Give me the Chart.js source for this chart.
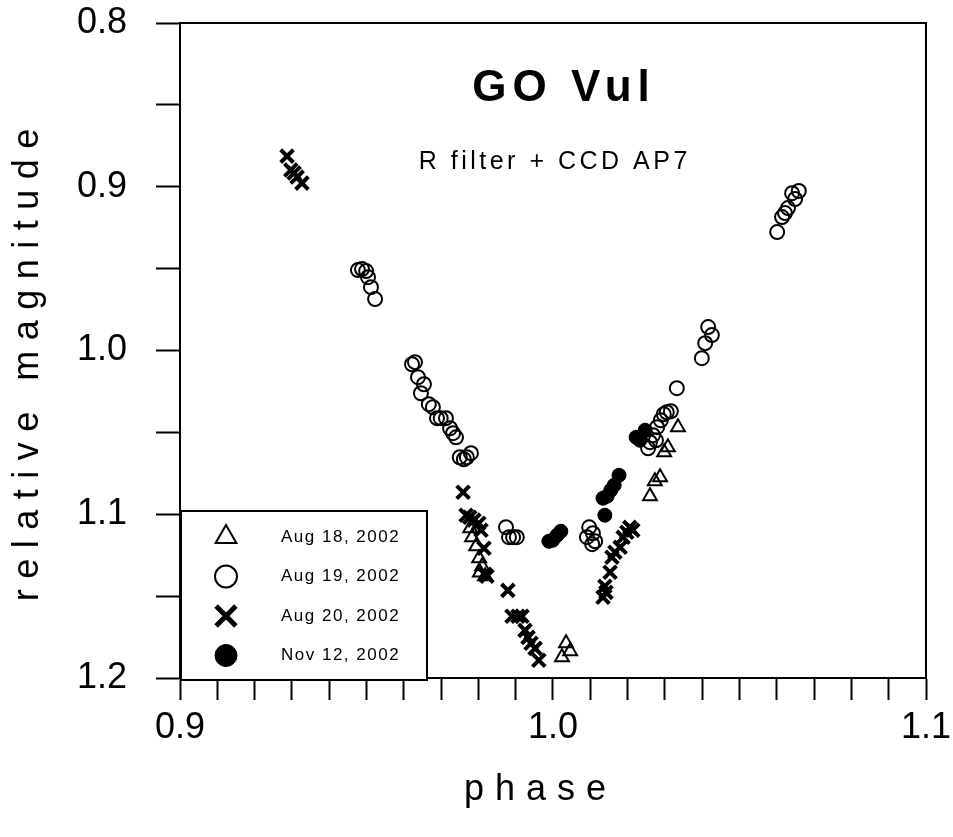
<!DOCTYPE html>
<html>
<head>
<meta charset="utf-8">
<script src="https://cdn.jsdelivr.net/npm/chart.js@4/dist/chart.umd.min.js"></script>
<style>
  html, body { margin: 0; padding: 0; background: #fff; }
</style>
</head>
<body>
<canvas id="myChart" width="953" height="837"></canvas>
<script>
// phase / relative magnitude
const phase18 = [0.9778, 0.9783, 0.9794, 0.9802, 0.9810, 0.9804, 0.9818, 1.0024, 1.0035, 1.0046,
  1.0260, 1.0273, 1.0287, 1.0298, 1.0308, 1.0335];
const mag18 = [1.1086, 1.1141, 1.1196, 1.1269, 1.1318, 1.1355, 1.1379, 1.1874, 1.1788, 1.1837,
  1.0890, 1.0798, 1.0774, 1.0621, 1.0591, 1.0468];

const phase19 = [0.9477, 0.9488, 0.9499, 0.9504, 0.9512, 0.9523,
  0.9622, 0.9630, 0.9638, 0.9654, 0.9646, 0.9667, 0.9678, 0.9689, 0.9699, 0.9713, 0.9724, 0.9732,
  0.9740, 0.9750, 0.9761, 0.9769, 0.9780,
  0.9874, 0.9882, 0.9893, 0.9903,
  1.0091, 1.0097, 1.0105, 1.0107, 1.0113,
  1.0255, 1.0260, 1.0268, 1.0276, 1.0279, 1.0289, 1.0297, 1.0305, 1.0316, 1.0332,
  1.0399, 1.0408, 1.0416, 1.0426,
  1.0601, 1.0614, 1.0622, 1.0630, 1.0641, 1.0649, 1.0659];
const mag19 = [0.9509, 0.9503, 0.9515, 0.9552, 0.9613, 0.9686,
  1.0084, 1.0071, 1.0163, 1.0206, 1.0261, 1.0328, 1.0346, 1.0413, 1.0413, 1.0413, 1.0475, 1.0505,
  1.0530, 1.0652, 1.0664, 1.0652, 1.0627,
  1.1079, 1.1140, 1.1140, 1.1140,
  1.1140, 1.1080, 1.1183, 1.1116, 1.1165,
  1.0597, 1.0560, 1.0517, 1.0548, 1.0468, 1.0426, 1.0389, 1.0377, 1.0371, 1.0230,
  1.0047, 0.9955, 0.9857, 0.9906,
  0.9277, 0.9185, 0.9161, 0.9130, 0.9039, 0.9075, 0.9026];

const phase20 = [0.9287, 0.9297, 0.9306, 0.9314, 0.9327,
  0.9759, 0.9767, 0.9777, 0.9788, 0.9801, 0.9807, 0.9815, 0.9823, 0.9818,
  0.9879, 0.9890, 0.9906, 0.9917, 0.9925, 0.9933, 0.9941, 0.9952, 0.9962,
  1.0134, 1.0139, 1.0142, 1.0153, 1.0158, 1.0166, 1.0180, 1.0188, 1.0198, 1.0206, 1.0214];
const mag20 = [0.8813, 0.8898, 0.8916, 0.8941, 0.8978,
  1.0866, 1.1006, 1.1018, 1.1036, 1.1055, 1.1098, 1.1208, 1.1379, 1.1367,
  1.1465, 1.1623, 1.1623, 1.1623, 1.1709, 1.1752, 1.1788, 1.1819, 1.1892,
  1.1507, 1.1440, 1.1477, 1.1354, 1.1263, 1.1232, 1.1202, 1.1141, 1.1110, 1.1080, 1.1098];

const phaseNov = [0.9989, 0.9999, 1.0011, 1.0021, 1.0134, 1.0139, 1.0145, 1.0155, 1.0164, 1.0177,
  1.0223, 1.0233, 1.0247];
const magNov = [1.1165, 1.1159, 1.1128, 1.1104, 1.0902, 1.1006, 1.0890, 1.0853, 1.0823, 1.0762,
  1.0530, 1.0548, 1.0487];

const seriesLabels = ["Aug 18, 2002", "Aug 19, 2002", "Aug 20, 2002", "Nov 12, 2002"];
const xTickLabels = ["0.9", "1.0", "1.1"];
const yTickLabels = ["0.8", "0.9", "1.0", "1.1", "1.2"];

const FONT = "'Liberation Sans', Arial, Helvetica, sans-serif";

const toPoints = (xs, ys) => xs.map((x, i) => ({ x: x, y: ys[i] }));

const datasets = [
  { label: seriesLabels[0], data: toPoints(phase18, mag18), pointStyle: "triangle",
    pointRadius: 8, borderWidth: 2, borderColor: "#000", backgroundColor: "rgba(0,0,0,0)" },
  { label: seriesLabels[1], data: toPoints(phase19, mag19), pointStyle: "circle",
    pointRadius: 7, borderWidth: 2, borderColor: "#000", backgroundColor: "rgba(0,0,0,0)" },
  { label: seriesLabels[2], data: toPoints(phase20, mag20), pointStyle: "crossRot",
    pointRadius: 9, borderWidth: 4, borderColor: "#000", backgroundColor: "#000" },
  { label: seriesLabels[3], data: toPoints(phaseNov, magNov), pointStyle: "circle",
    pointRadius: 7, borderWidth: 1, borderColor: "#000", backgroundColor: "#000" }
];

// legend symbol sizes (bigger than the data marks)
const legendRadius = [12, 11, 14, 11];
const legendBorder = [2, 2, 5, 1];

const isLabelTick = (v) => Math.abs(v * 10 - Math.round(v * 10)) < 1e-6;

const textSpaced = (ctx, str, x, y, font, spacing) => {
  ctx.save();
  ctx.font = font;
  ctx.letterSpacing = spacing + "px";
  ctx.fillStyle = "#000";
  ctx.textAlign = "center";
  ctx.textBaseline = "middle";
  ctx.fillText(str, x + spacing / 2, y);
  ctx.restore();
};

const decorPlugin = {
  id: "decor",
  afterDraw(chart) {
    const ctx = chart.ctx;
    const a = chart.chartArea;

    // frame around the plot
    ctx.save();
    ctx.strokeStyle = "#000";
    ctx.lineWidth = 2;
    ctx.strokeRect(a.left, a.top, a.right - a.left, a.bottom - a.top);
    ctx.restore();

    // titles
    textSpaced(ctx, "GO Vul", 561, 89, "bold 44px " + FONT, 6);
    textSpaced(ctx, "R filter + CCD AP7", 553, 162, "25px " + FONT, 3.5);
    textSpaced(ctx, "phase", 535, 790, "36px " + FONT, 11);

    ctx.save();
    ctx.translate(28, 365);
    ctx.rotate(-Math.PI / 2);
    textSpaced(ctx, "relative magnitude", 0, 0, "36px " + FONT, 10.5);
    ctx.restore();

    // legend box, bottom left inside the plot
    const bx = a.left + 1, by = a.bottom - 167, bw = 246, bh = 169;
    ctx.save();
    ctx.fillStyle = "#fff";
    ctx.fillRect(bx, by, bw, bh);
    ctx.strokeStyle = "#000";
    ctx.lineWidth = 2;
    ctx.strokeRect(bx, by, bw, bh);
    chart.data.datasets.forEach((ds, i) => {
      const cy = by + 26 + i * 39.5;
      ctx.fillStyle = ds.backgroundColor;
      ctx.strokeStyle = "#000";
      ctx.lineWidth = legendBorder[i];
      Chart.helpers.drawPoint(ctx, {
        pointStyle: ds.pointStyle, radius: legendRadius[i],
        borderWidth: legendBorder[i], rotation: 0
      }, bx + 45, cy);
      ctx.font = "17px " + FONT;
      ctx.letterSpacing = "1.5px";
      ctx.fillStyle = "#000";
      ctx.textAlign = "left";
      ctx.textBaseline = "middle";
      ctx.fillText(ds.label, bx + 100, cy);
    });
    ctx.restore();
  }
};

new Chart(document.getElementById("myChart"), {
  type: "scatter",
  data: { datasets: datasets },
  options: {
    responsive: false,
    animation: false,
    layout: { padding: { top: 23, right: 27, left: 0, bottom: 0 } },
    plugins: { legend: { display: false }, tooltip: { enabled: false } },
    scales: {
      x: {
        type: "linear", min: 0.9, max: 1.1,
        ticks: {
          stepSize: 0.01, autoSkip: false, maxRotation: 0, padding: 6,
          color: "#000", font: { size: 36, family: FONT },
          callback: (v) => isLabelTick(v) ? xTickLabels[Math.round((v - 0.9) * 10)] : ""
        },
        grid: { drawOnChartArea: false, tickLength: 22, tickColor: "#000", tickWidth: 2 },
        border: { color: "#000", width: 2 },
        afterFit: (s) => { s.height = 159; s.paddingLeft = 0; s.paddingRight = 0; }
      },
      y: {
        type: "linear", min: 0.8, max: 1.2, reverse: true,
        ticks: {
          stepSize: 0.05, autoSkip: false, padding: 29,
          color: "#000", font: { size: 36, family: FONT },
          callback: (v) => isLabelTick(v) ? yTickLabels[Math.round((v - 0.8) * 10)] : ""
        },
        grid: { drawOnChartArea: false, tickLength: 24, tickColor: "#000", tickWidth: 2 },
        border: { color: "#000", width: 2 },
        afterFit: (s) => { s.width = 180; s.paddingTop = 0; s.paddingBottom = 0; }
      }
    }
  },
  plugins: [decorPlugin]
});
</script>
</body>
</html>
